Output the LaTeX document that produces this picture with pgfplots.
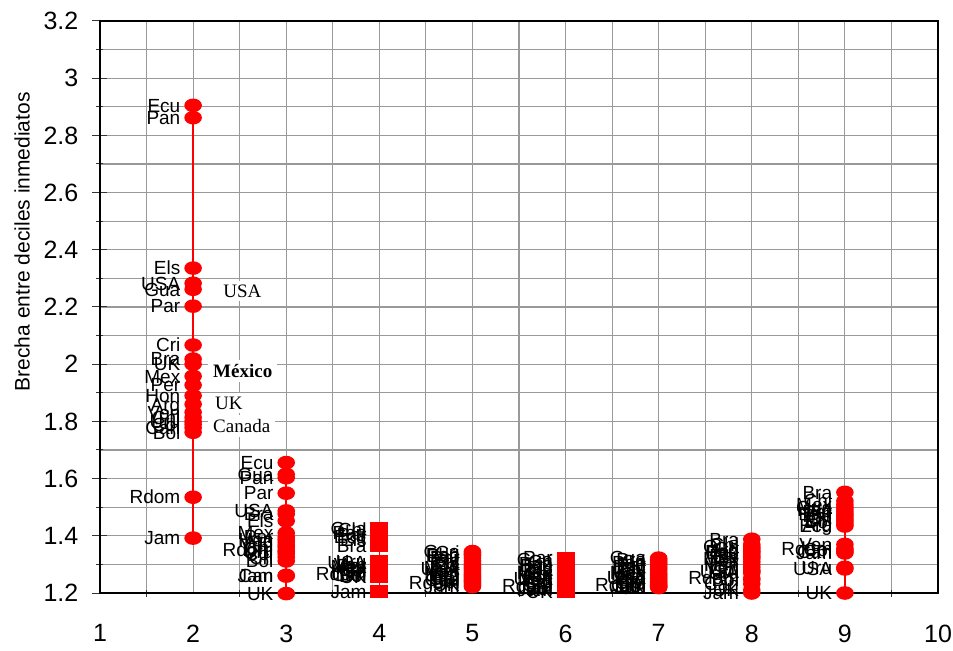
\documentclass[border=0pt]{standalone}
\usepackage{pgfplots}
\pgfplotsset{compat=1.18}
\usepackage{pgfplotstable}
\usepackage{fontspec}
\setmainfont{Liberation Sans}
\newfontfamily\timesf{Liberation Serif}

\pgfplotstableread{
x y c
2 2.905 Ecu
2 2.862 Pan
2 2.336 Els
2 2.283 USA
2 2.262 Gua
2 2.203 Par
2 2.067 Cri
2 2.018 Bra
2 2.000 UK
2 1.958 Mex
2 1.927 Per
2 1.890 Hon
2 1.860 Arg
2 1.832 Ven
2 1.814 Chl
2 1.800 Uru
2 1.790 Col
2 1.778 Can
2 1.762 Bol
2 1.535 Rdom
2 1.392 Jam
}\dTwo
\pgfplotstableread{
x y c
3 1.656 Ecu
3 1.615 Gua
3 1.603 Pan
3 1.549 Par
3 1.487 USA
3 1.476 Bra
3 1.452 Els
3 1.410 Mex
3 1.396 Per
3 1.387 Hon
3 1.378 Arg
3 1.368 Ven
3 1.360 Chl
3 1.350 Rdom
3 1.344 Uru
3 1.336 Col
3 1.325 Cri
3 1.312 Bol
3 1.262 Can
3 1.259 Jam
3 1.198 UK
}\dThree
\pgfplotstableread{
x y c
4 1.425 Gua
4 1.420 Chl
4 1.412 Pan
4 1.405 Par
4 1.398 Ecu
4 1.388 Els
4 1.365 Bra
4 1.310 Uru
4 1.305 USA
4 1.300 Ven
4 1.296 Per
4 1.292 Mex
4 1.287 Arg
4 1.282 Col
4 1.278 Cri
4 1.273 Hon
4 1.268 Rdom
4 1.263 Can
4 1.260 Bol
4 1.258 UK
4 1.205 Jam
}\dFour
\pgfplotstableread{
x y c
5 1.345 Gua
5 1.340 Cri
5 1.335 Pan
5 1.330 Ecu
5 1.322 Par
5 1.312 Els
5 1.302 Bra
5 1.296 Chl
5 1.290 Mex
5 1.284 USA
5 1.278 Per
5 1.271 Hon
5 1.265 Ven
5 1.260 Arg
5 1.255 Col
5 1.250 Uru
5 1.245 Can
5 1.240 Bol
5 1.235 Rdom
5 1.228 UK
5 1.222 Jam
}\dFive
\pgfplotstableread{
x y c
6 1.322 Par
6 1.318 Gua
6 1.310 Cri
6 1.302 Pan
6 1.296 Ecu
6 1.290 Els
6 1.281 Bra
6 1.272 Mex
6 1.266 Chl
6 1.260 Hon
6 1.255 Per
6 1.250 USA
6 1.245 Ven
6 1.240 Arg
6 1.235 Col
6 1.230 Uru
6 1.225 Rdom
6 1.220 Can
6 1.215 Bol
6 1.210 Jam
6 1.205 UK
}\dSix
\pgfplotstableread{
x y c
7 1.322 Gua
7 1.317 Bra
7 1.311 Cri
7 1.305 Pan
7 1.300 Par
7 1.292 Ecu
7 1.286 Els
7 1.280 Chl
7 1.272 Mex
7 1.266 Hon
7 1.261 Per
7 1.255 USA
7 1.250 Ven
7 1.245 Arg
7 1.240 Col
7 1.235 Uru
7 1.230 Rdom
7 1.226 Can
7 1.224 Bol
7 1.221 Jam
7 1.219 UK
}\dSeven
\pgfplotstableread{
x y c
8 1.388 Bra
8 1.370 Chl
8 1.362 Gua
8 1.356 Cri
8 1.350 Arg
8 1.345 Pan
8 1.340 Ecu
8 1.332 Par
8 1.326 Els
8 1.320 Mex
8 1.310 Per
8 1.300 Hon
8 1.290 Ven
8 1.280 Col
8 1.276 USA
8 1.270 Uru
8 1.252 Rdom
8 1.246 Bol
8 1.232 Can
8 1.210 UK
8 1.200 Jam
}\dEight
\pgfplotstableread{
x y c
9 1.552 Bra
9 1.522 Chl
9 1.510 Mex
9 1.500 Gua
9 1.492 Hon
9 1.484 Per
9 1.476 Pan
9 1.470 Par
9 1.462 Cri
9 1.455 Els
9 1.448 Bol
9 1.440 Arg
9 1.434 Ecu
9 1.370 Ven
9 1.356 Rdom
9 1.350 Col
9 1.344 Can
9 1.340 Jam
9 1.290 Uru
9 1.284 USA
9 1.200 UK
}\dNine

\pgfplotsset{
  dbase/.style={red, line width=1.6bp, nodes near coords, point meta=explicit symbolic,
    every node near coord/.append style={anchor=base east, xshift=-12bp, yshift=-6.8bp,
      inner sep=0pt, text=black, font=\fontsize{19bp}{22bp}\selectfont}},
  dell/.style={dbase, mark=*, mark size=6bp, mark options={xscale=1.33, solid, fill=red, draw=red}},
  dsq/.style={dbase, mark=square*, mark size=5.5bp, mark options={xscale=1.5, solid, fill=red, draw=red}},
}

\begin{document}
\begin{tikzpicture}
\begin{axis}[
  scale only axis, width=838bp, height=572bp,
  xmin=1, xmax=10, ymin=1.2, ymax=3.2,
  clip=false,
  xtick={1,2,3,4,5,6,7,8,9,10},
  minor xtick={1.5,2.5,3.5,4.5,5.5,6.5,7.5,8.5,9.5},
  ytick={1.2,1.4,1.6,1.8,2,2.2,2.4,2.6,2.8,3,3.2},
  minor ytick={1.3,1.5,1.7,1.9,2.1,2.3,2.5,2.7,2.9,3.1},
  grid=both,
  major grid style={draw=black!40, line width=1.2bp},
  minor grid style={draw=black!40, line width=1.2bp},
  axis line style={black, line width=1.6bp},
  tick align=center, major tick length=15bp, minor tick length=7bp,
  tick style={black!80, line width=1bp},
  major x tick style={draw=none},
  xtick pos=bottom, ytick pos=left,
  /pgf/number format/assume math mode=true,
  tick label style={font=\fontsize{25bp}{30bp}\selectfont},
  yticklabel style={/pgf/number format/fixed, /pgf/number format/precision=1, inner sep=0pt, xshift=-14bp},
  xticklabel style={inner sep=0pt, yshift=-24bp},
  ylabel={Brecha entre deciles inmediatos},
  ylabel style={at={(axis description cs:-0.093,0.614)}, anchor=center, font=\fontsize{21bp}{25bp}\selectfont},
]
\addplot[dell] table[x=x, y=y, meta=c] {\dTwo};
\addplot[dell] table[x=x, y=y, meta=c] {\dThree};
\addplot[dsq]  table[x=x, y=y, meta=c] {\dFour};
\addplot[dell] table[x=x, y=y, meta=c] {\dFive};
\addplot[dsq]  table[x=x, y=y, meta=c] {\dSix};
\addplot[dell] table[x=x, y=y, meta=c] {\dSeven};
\addplot[dell] table[x=x, y=y, meta=c] {\dEight};
\addplot[dell] table[x=x, y=y, meta=c] {\dNine};
\begin{scope}[every node/.style={fill=white, anchor=west, inner xsep=5bp, inner ysep=4bp, font=\timesf\fontsize{19bp}{22bp}\selectfont}]
\node at (axis cs:2.27,2.256) {USA};
\node[font=\timesf\bfseries\fontsize{19bp}{22bp}\selectfont] at (axis cs:2.16,1.976) {México};
\node at (axis cs:2.18,1.864) {UK};
\node at (axis cs:2.16,1.784) {Canada};
\end{scope}
\end{axis}
\pgfresetboundingbox
\path ([shift={(-100bp,-58bp)}]current axis.south west) rectangle ([shift={(15bp,21bp)}]current axis.north east);
\end{tikzpicture}
\end{document}
